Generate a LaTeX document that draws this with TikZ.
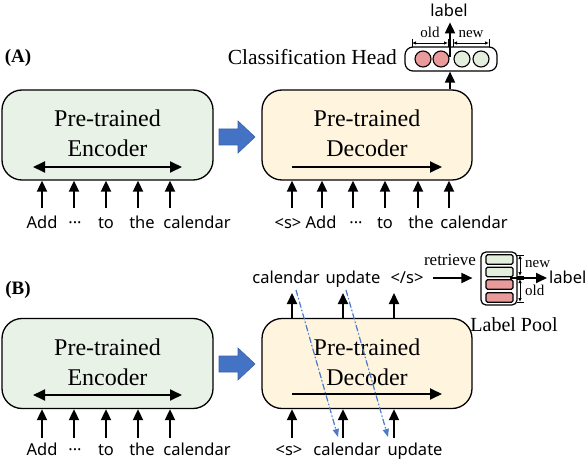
\documentclass[tikz,border=0pt]{standalone}
\usepackage{fontspec}
\setmainfont{Liberation Serif}
\newfontfamily\sansf{Noto Sans}
\usetikzlibrary{arrows.meta}
\definecolor{encfill}{HTML}{E9F2E7}
\definecolor{decfill}{HTML}{FFF5DF}
\definecolor{blockblue}{HTML}{4472C4}
\definecolor{oldred}{HTML}{EA9A9A}
\definecolor{newgreen}{HTML}{E3EEDD}
\definecolor{dashblue}{HTML}{4A7AC8}
\begin{document}
\begin{tikzpicture}[x=1pt,y=-1pt,
  encbox/.style={draw=black,line width=1.3pt,rounded corners=20pt,fill=encfill,minimum width=211pt,minimum height=90pt,inner sep=0pt},
  decbox/.style={draw=black,line width=1.3pt,rounded corners=20pt,fill=decfill,minimum width=210pt,minimum height=90pt,inner sep=0pt},
  btext/.style={font=\fontsize{24}{28}\selectfont,anchor=base,inner sep=0pt},
  tok/.style={font=\sansf\fontsize{16.5}{18}\selectfont,anchor=base,inner sep=0pt},
  small/.style={font=\fontsize{15}{17}\selectfont,anchor=base,inner sep=0pt},
  arr/.style={line width=1.8pt,-{Triangle[length=11pt,width=10pt]}},
  darr/.style={line width=1.8pt,{Triangle[length=12pt,width=11pt]}-{Triangle[length=12pt,width=11pt]}},
  dasharr/.style={draw=dashblue,line width=1.2pt,dash pattern=on 6pt off 2.5pt on 1.2pt off 2.5pt,-{Triangle[length=8pt,width=6pt]},fill=dashblue},
  bracket/.style={line width=0.9pt,{Latex[length=4pt,width=3.5pt]}-{Latex[length=4pt,width=3.5pt]}},
  barline/.style={line width=0.9pt},
  blockarrow/.style={fill=blockblue,draw=blockblue!85!black,line width=0.6pt},
  circ/.style={circle,draw=black,line width=1.1pt,minimum size=16pt,inner sep=0pt},
  poolbar/.style={draw=black,line width=1.1pt,rounded corners=1.5pt,minimum width=27pt,minimum height=9.5pt,inner sep=0pt},
]
\useasboundingbox (0,0) rectangle (588,462);

% ---------------- Panel A ----------------
\node[font=\bfseries\fontsize{19}{22}\selectfont,inner sep=0pt] (tagA) at (18,58) {(A)};

\node[encbox] (encA) at (107.5,135) {};
\node[btext] (encAt1) at (107.5,127) {Pre-trained};
\node[btext] (encAt2) at (107.5,157) {Encoder};
\coordinate (encAl) at (33,167);
\coordinate (encAr) at (182,167);
\draw[darr] (encAl) -- (encAr);

\node[decbox] (decA) at (367,135) {};
\node[btext] (decAt1) at (367,127) {Pre-trained};
\node[btext] (decAt2) at (367,157) {Decoder};
\coordinate (decAl) at (292,167);
\coordinate (decAr) at (442,167);
\draw[arr,-{Triangle[length=12pt,width=11pt]}] (decAl) -- (decAr);

\draw[blockarrow] (219,129) -- (238,129) -- (238,121) -- (255,137) -- (238,153) -- (238,145) -- (219,145) -- cycle;

% encoder A tokens
\node[tok] (ea1) at (42,229) {Add};
\node[tok] (ea2) at (75,229) {···};
\node[tok] (ea3) at (106,229) {to};
\node[tok] (ea4) at (142,229) {the};
\node[tok] (ea5) at (197,229) {calendar};
\foreach \x [count=\i] in {42,74,106,138,170}{
  \coordinate (eaa\i) at (\x,208);
  \draw[arr] (eaa\i) -- (eaa\i |- encA.south);
}
% decoder A tokens
\node[tok] (da1) at (288,229) {<s>};
\node[tok] (da2) at (321,229) {Add};
\node[tok] (da3) at (356,229) {···};
\node[tok] (da4) at (385,229) {to};
\node[tok] (da5) at (421,229) {the};
\node[tok] (da6) at (474,229) {calendar};
\foreach \x [count=\i] in {292,322,353,385,418,449}{
  \coordinate (daa\i) at (\x,208);
  \draw[arr] (daa\i) -- (daa\i |- decA.south);
}

% classification head
\node[font=\fontsize{21.5}{24}\selectfont,anchor=base east,inner sep=0pt] (clsname) at (397,65) {Classification Head};
\node[draw=black,line width=1.2pt,rounded corners=8pt,minimum width=92pt,minimum height=24pt,inner sep=0pt] (head) at (451,59) {};
\node[circ,fill=oldred] (c1) at (423,59) {};
\node[circ,fill=oldred] (c2) at (441,59) {};
\node[circ,fill=newgreen] (c3) at (462,59) {};
\node[circ,fill=newgreen] (c4) at (481,59) {};
\coordinate (hx) at (450,0);
\draw[arr] (decA.north -| hx) -- (head.south -| hx);
\node[tok] (lblA) at (449,17) {label};
\coordinate (hin) at (450,57);
\draw[arr,shorten >=5pt] (hin) -- (lblA.south -| hin);

\coordinate (oldL) at (412,43);
\coordinate (oldR) at (448,43);
\coordinate (newL) at (453,43);
\coordinate (newR) at (489,43);
\draw[bracket] (oldL) -- (oldR);
\draw[bracket] (newL) -- (newR);
\foreach \p in {oldL,oldR,newL,newR}{
  \draw[barline] ([yshift=-4pt]\p) -- ([yshift=4pt]\p);
}
\node[small] (oldA) at (430,38) {old};
\node[small] (newA) at (471,38) {new};

% ---------------- Panel B ----------------
\node[font=\bfseries\fontsize{19}{22}\selectfont,inner sep=0pt] (tagB) at (18,290) {(B)};

\node[encbox] (encB) at (107.5,363.5) {};
\node[btext] (encBt1) at (107.5,355) {Pre-trained};
\node[btext] (encBt2) at (107.5,385) {Encoder};
\coordinate (encBl) at (33,395);
\coordinate (encBr) at (182,395);
\draw[darr] (encBl) -- (encBr);

\node[decbox] (decB) at (367,363.5) {};
\node[btext] (decBt1) at (367,355) {Pre-trained};
\node[btext] (decBt2) at (367,385) {Decoder};
\coordinate (decBl) at (292,394);
\coordinate (decBr) at (442,394);
\draw[arr,-{Triangle[length=12pt,width=11pt]}] (decBl) -- (decBr);

\draw[blockarrow] (219,356) -- (238,356) -- (238,348) -- (255,364) -- (238,380) -- (238,372) -- (219,372) -- cycle;

\node[tok] (eb1) at (42,455) {Add};
\node[tok] (eb2) at (75,455) {···};
\node[tok] (eb3) at (106,455) {to};
\node[tok] (eb4) at (142,455) {the};
\node[tok] (eb5) at (197,455) {calendar};
\foreach \x [count=\i] in {42,74,106,138,170}{
  \coordinate (eba\i) at (\x,438);
  \draw[arr] (eba\i) -- (eba\i |- encB.south);
}

\node[tok] (db1) at (289,455) {<s>};
\node[tok] (db2) at (347,455) {calendar};
\node[tok] (db3) at (415,455) {update};
\foreach \x [count=\i] in {292,343,394}{
  \coordinate (dba\i) at (\x,438);
  \draw[arr] (dba\i) -- (dba\i |- decB.south);
}

\node[tok] (ob1) at (286,283) {calendar};
\node[tok] (ob2) at (353,283) {update};
\node[tok] (ob3) at (407,283) {</s>};
\foreach \x [count=\i] in {292,343,394}{
  \coordinate (oba\i) at (\x,293);
  \draw[arr] (oba\i |- decB.north) -- (oba\i);
}

% dashed feedback arrows
\coordinate (fb1s) at (296,290);
\coordinate (fb1e) at (338,437);
\coordinate (fb2s) at (346,290);
\coordinate (fb2e) at (388,437);
\draw[dasharr] (fb1s) -- (fb1e);
\draw[dasharr] (fb2s) -- (fb2e);

% label pool
\node[draw=black,line width=1.2pt,rounded corners=5pt,minimum width=36pt,minimum height=53pt,inner sep=0pt] (pool) at (499,278.5) {};
\node[poolbar,fill=newgreen] (pb1) at (499.5,259.5) {};
\node[poolbar,fill=newgreen] (pb2) at (499.5,272) {};
\node[poolbar,fill=oldred] (pb3) at (499.5,284.5) {};
\node[poolbar,fill=oldred] (pb4) at (499.5,297.5) {};
\node[font=\fontsize{20}{22}\selectfont,anchor=base,inner sep=0pt] (poolname) at (514,331) {Label Pool};

\node[font=\fontsize{17}{19}\selectfont,anchor=base,inner sep=0pt] (retr) at (450,265) {retrieve};
\coordinate (r0) at (433,278);
\draw[arr,shorten >=8pt] (r0) -- (pool.west |- r0);

\node[tok,anchor=base west] (lblB) at (549,283) {label};
\coordinate (l0) at (510,278);
\draw[arr,shorten >=2pt] (l0) -- (lblB.west |- l0);

\coordinate (nT) at (520,255);
\coordinate (nB) at (520,276);
\coordinate (oT) at (520,279);
\coordinate (oB) at (520,302);
\draw[bracket] (nT) -- (nB);
\draw[bracket] (oT) -- (oB);
\foreach \p in {nT,nB,oT,oB}{
  \draw[barline] ([xshift=-3.5pt]\p) -- ([xshift=3.5pt]\p);
}
\node[small,anchor=base west] (newB) at (525,267) {new};
\node[small,anchor=base west] (oldB) at (525,295) {old};

\end{tikzpicture}
\end{document}
